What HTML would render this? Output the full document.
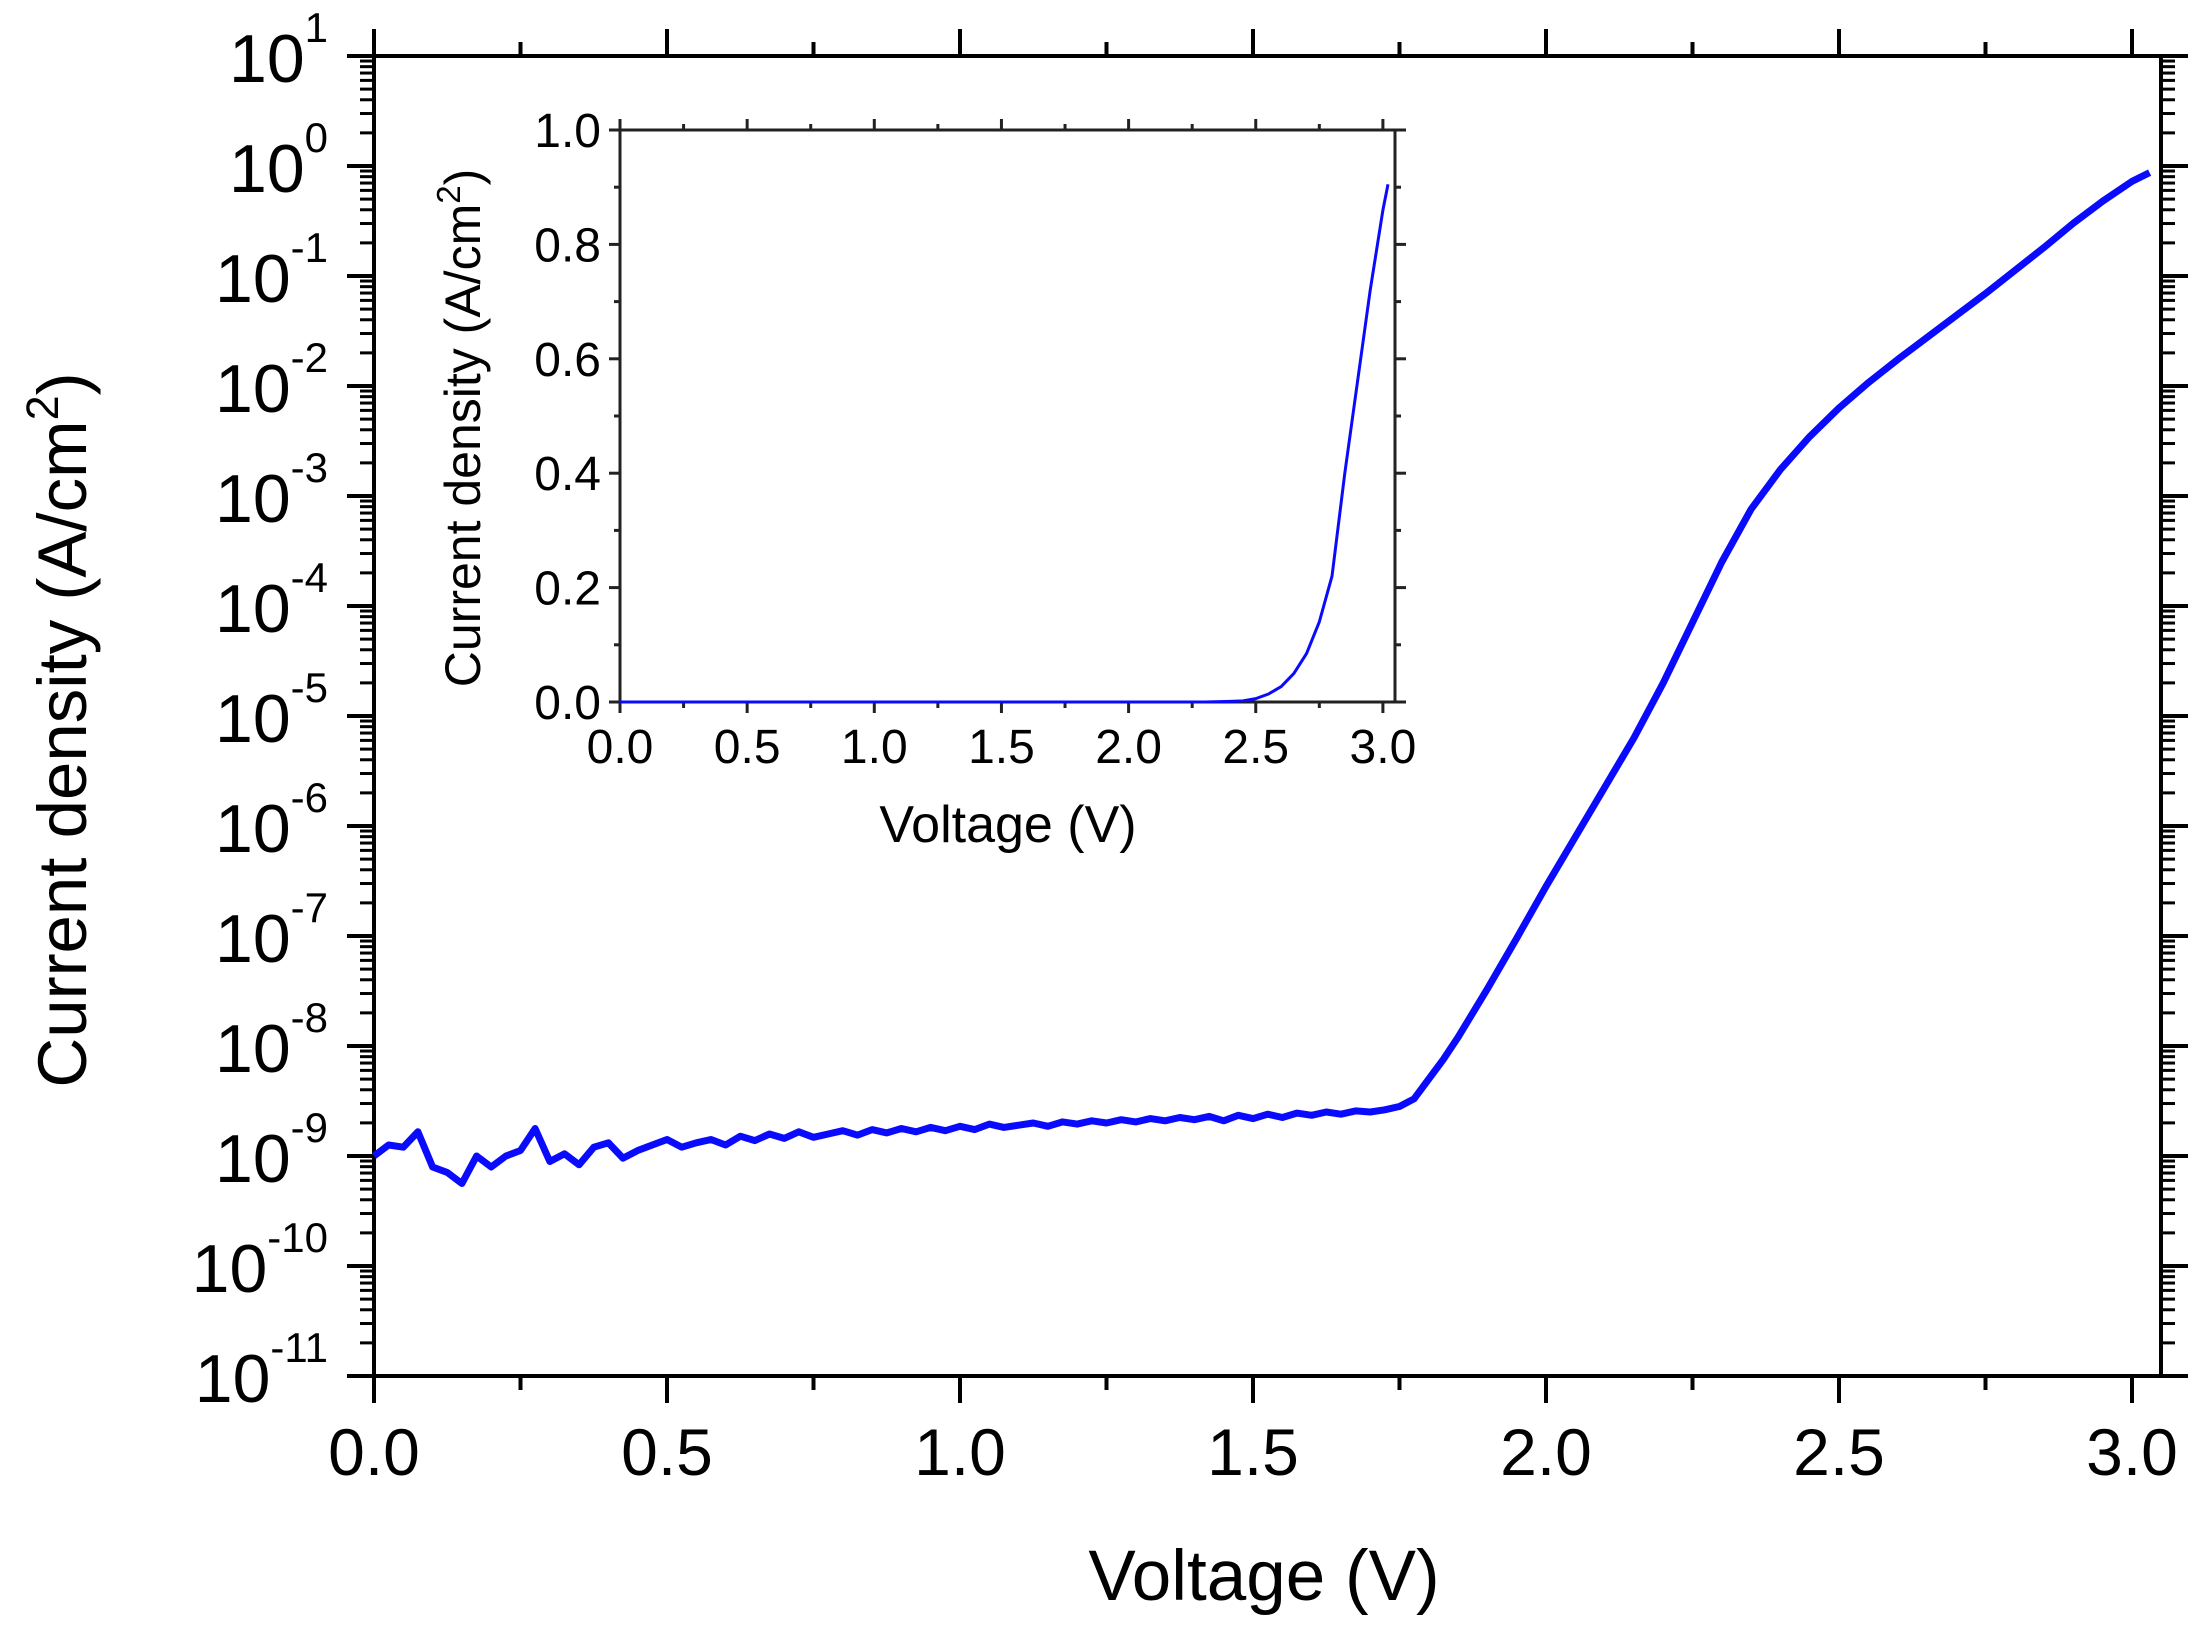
<!DOCTYPE html>
<html><head><meta charset="utf-8"><style>
html,body{margin:0;padding:0;background:#fff}
svg{display:block;font-family:"Liberation Sans",Arial,sans-serif}
</style></head><body>
<svg id="chart" width="2202" height="1636" viewBox="0 0 2202 1636" xmlns="http://www.w3.org/2000/svg">
<g id="main"></g>
<g id="inset"></g>
</svg>
<script>
// ---- data ----
const voltage = [0,0.025,0.05,0.075,0.1,0.125,0.15,0.175,0.2,0.225,0.25,0.275,0.3,0.325,0.35,0.375,0.4,0.425,0.45,0.475,0.5,0.525,0.55,0.575,0.6,0.625,0.65,0.675,0.7,0.725,0.75,0.775,0.8,0.825,0.85,0.875,0.9,0.925,0.95,0.975,1.0,1.025,1.05,1.075,1.1,1.125,1.15,1.175,1.2,1.225,1.25,1.275,1.3,1.325,1.35,1.375,1.4,1.425,1.45,1.475,1.5,1.525,1.55,1.575,1.6,1.625,1.65,1.675,1.7,1.725,1.75,1.775,1.8,1.825,1.85,1.9,1.95,2.0,2.05,2.1,2.15,2.2,2.25,2.3,2.35,2.4,2.45,2.5,2.55,2.6,2.65,2.7,2.75,2.8,2.85,2.9,2.95,3.0,3.03];
const logCurrent = [-9.0,-8.9,-8.92,-8.78,-9.1,-9.15,-9.25,-9.0,-9.1,-9.0,-8.95,-8.75,-9.05,-8.98,-9.08,-8.92,-8.88,-9.02,-8.95,-8.9,-8.85,-8.92,-8.88,-8.85,-8.9,-8.82,-8.86,-8.8,-8.84,-8.78,-8.83,-8.8,-8.77,-8.81,-8.76,-8.79,-8.75,-8.78,-8.74,-8.77,-8.73,-8.76,-8.71,-8.74,-8.72,-8.7,-8.73,-8.69,-8.71,-8.68,-8.7,-8.67,-8.69,-8.66,-8.68,-8.65,-8.67,-8.64,-8.68,-8.63,-8.66,-8.62,-8.65,-8.61,-8.63,-8.6,-8.62,-8.59,-8.6,-8.58,-8.55,-8.48,-8.3,-8.12,-7.92,-7.48,-7.02,-6.55,-6.1,-5.65,-5.2,-4.7,-4.15,-3.6,-3.12,-2.76,-2.46,-2.2,-1.97,-1.76,-1.56,-1.36,-1.16,-0.95,-0.74,-0.52,-0.32,-0.14,-0.06];
const insetVoltage = [0,2.3,2.4,2.45,2.5,2.55,2.6,2.65,2.7,2.75,2.8,2.85,2.9,2.95,3.0,3.02];
const insetCurrent = [0,0,0.001,0.002,0.006,0.014,0.027,0.05,0.085,0.14,0.22,0.4,0.56,0.72,0.86,0.905];
const xTicks = [0,0.5,1.0,1.5,2.0,2.5,3.0];
const xTickLabels = ["0.0","0.5","1.0","1.5","2.0","2.5","3.0"];
const yDecades = [1,0,-1,-2,-3,-4,-5,-6,-7,-8,-9,-10,-11];
const insetYTicks = [0,0.2,0.4,0.6,0.8,1.0];
const insetYTickLabels = ["0.0","0.2","0.4","0.6","0.8","1.0"];

const NS="http://www.w3.org/2000/svg";
function mk(parent,tag,attrs,text){const e=document.createElementNS(NS,tag);for(const k in attrs)e.setAttribute(k,attrs[k]);if(text!==undefined)e.textContent=text;parent.appendChild(e);return e;}

// ---- main plot ----
const M={l:374,r:2161,t:56,b:1376};
const mx=v=>374+v*586;
const my=lg=>56+(1-lg)*110;
const main=document.getElementById('main');
for(let v=0;v<=3.001;v+=0.25){
  const major=Math.abs(v*2-Math.round(v*2))<1e-6, L=major?27:14;
  let t=mk(main,'line',{x1:mx(v),x2:mx(v),y1:M.b,y2:M.b+L,stroke:'#000','stroke-width':4});
  
  t=mk(main,'line',{x1:mx(v),x2:mx(v),y1:M.t,y2:M.t-L,stroke:'#000','stroke-width':4});
  
}
for(const d of yDecades){
  let t=mk(main,'line',{x1:M.l-27,x2:M.l,y1:my(d),y2:my(d),stroke:'#000','stroke-width':4});
  
  t=mk(main,'line',{x1:M.r,x2:M.r+27,y1:my(d),y2:my(d),stroke:'#000','stroke-width':4});
  
  if(d>-11){for(let k=2;k<=9;k++){const yy=my(d-1+Math.log10(k));
    let m=mk(main,'line',{x1:M.l-14,x2:M.l,y1:yy,y2:yy,stroke:'#000','stroke-width':3});
    
    m=mk(main,'line',{x1:M.r,x2:M.r+14,y1:yy,y2:yy,stroke:'#000','stroke-width':3});
    }}
  const tx=mk(main,'text',{x:328,y:my(d)+26,'font-size':68,'text-anchor':'end'});
  
  tx.innerHTML='10<tspan dy="-40" font-size="42">'+d+'</tspan>';
}
xTicks.forEach((v,i)=>{const t=mk(main,'text',{x:mx(v),y:1475,'font-size':66,'text-anchor':'middle'},xTickLabels[i]);
  });
const frame=mk(main,'rect',{x:M.l,y:M.t,width:M.r-M.l,height:M.b-M.t,fill:'none',stroke:'#000','stroke-width':4});

let pts=voltage.map((v,i)=>mx(v).toFixed(1)+','+my(logCurrent[i]).toFixed(1)).join(' ');
const line=mk(main,'polyline',{points:pts,fill:'none',stroke:'#0a0aff','stroke-width':7,'stroke-linejoin':'round'});

const xt=mk(main,'text',{x:1264,y:1600,'font-size':71,'text-anchor':'middle'},'Voltage (V)');

const yt=mk(main,'text',{transform:'translate(86,730) rotate(-90)','font-size':69,'text-anchor':'middle'});

yt.innerHTML='Current density (A/cm<tspan dy="-28" font-size="45">2</tspan><tspan dy="28">)</tspan>';

// ---- inset ----
const I={l:620,r:1395,t:130,b:702};
const ix=v=>620+v*254.3;
const iy=j=>702-j*572;
const ins=document.getElementById('inset');
for(let v=0;v<=3.001;v+=0.25){
  const major=Math.abs(v*2-Math.round(v*2))<1e-6, L=major?11:6;
  let t=mk(ins,'line',{x1:ix(v),x2:ix(v),y1:I.b,y2:I.b+L,stroke:'#222','stroke-width':3});
  
  t=mk(ins,'line',{x1:ix(v),x2:ix(v),y1:I.t,y2:I.t-L,stroke:'#222','stroke-width':3});
  
}
for(let j=0;j<=1.001;j+=0.1){
  const major=Math.round(j*10)%2===0, L=major?11:6;
  let t=mk(ins,'line',{x1:I.l-L,x2:I.l,y1:iy(j),y2:iy(j),stroke:'#222','stroke-width':3});
  
  t=mk(ins,'line',{x1:I.r,x2:I.r+L,y1:iy(j),y2:iy(j),stroke:'#222','stroke-width':3});
  
}
insetYTicks.forEach((j,i)=>{const t=mk(ins,'text',{x:601,y:iy(j)+17,'font-size':48,'text-anchor':'end'},insetYTickLabels[i]);
  });
xTicks.forEach((v,i)=>{const t=mk(ins,'text',{x:ix(v),y:763,'font-size':48,'text-anchor':'middle'},xTickLabels[i]);
  });
const iframe=mk(ins,'rect',{x:I.l,y:I.t,width:I.r-I.l,height:I.b-I.t,fill:'none',stroke:'#222','stroke-width':3});

pts=insetVoltage.map((v,i)=>ix(v).toFixed(1)+','+iy(insetCurrent[i]).toFixed(1)).join(' ');
const iline=mk(ins,'polyline',{points:pts,fill:'none',stroke:'#0a0aff','stroke-width':3,'stroke-linejoin':'round'});

const ixt=mk(ins,'text',{x:1008,y:842,'font-size':52,'text-anchor':'middle'},'Voltage (V)');

const iyt=mk(ins,'text',{transform:'translate(480,428) rotate(-90)','font-size':50,'text-anchor':'middle'});

iyt.innerHTML='Current density (A/cm<tspan dy="-20" font-size="33">2</tspan><tspan dy="20">)</tspan>';
</script>
</body></html>
